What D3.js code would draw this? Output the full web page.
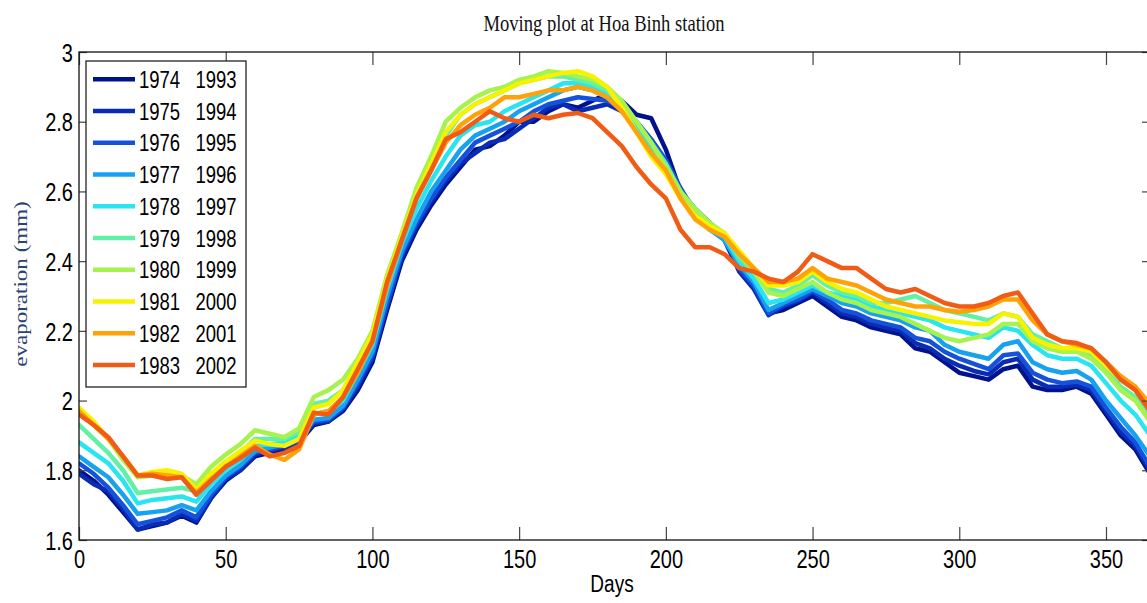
<!DOCTYPE html>
<html>
<head>
<meta charset="utf-8">
<script src="https://cdn.jsdelivr.net/npm/d3@7/dist/d3.min.js"></script>
<style>
  html, body { margin: 0; padding: 0; background: #fff; }
  svg { display: block; }
</style>
</head>
<body>
<svg id="chart" width="1147" height="603"></svg>
<script>
// ---------------- DATA ----------------
const days = [0,5,10,15,20,25,30,35,40,45,50,55,60,65,70,75,80,85,90,95,100,105,110,115,120,125,130,135,140,145,150,155,160,165,170,175,180,185,190,195,200,205,210,215,220,225,230,235,240,245,250,255,260,265,270,275,280,285,290,295,300,305,310,315,320,325,330,335,340,345,350,355,360,365];

const legendStart = ["1974","1975","1976","1977","1978","1979","1980","1981","1982","1983"];
const legendEnd = ["1993","1994","1995","1996","1997","1998","1999","2000","2001","2002"];
const seriesColors = ["#00128c","#0a2cb4","#1552dc","#16a2ee","#2ae4f0","#62efa6","#a6f24e","#f6f200","#ffa20a","#f05c16"];

const s1974 = [1.80,1.77,1.73,1.68,1.63,1.64,1.65,1.67,1.65,1.72,1.77,1.80,1.84,1.85,1.86,1.88,1.93,1.94,1.97,2.03,2.11,2.26,2.40,2.49,2.56,2.62,2.67,2.72,2.73,2.76,2.80,2.80,2.83,2.85,2.84,2.86,2.88,2.86,2.82,2.81,2.72,2.60,2.55,2.51,2.47,2.38,2.33,2.25,2.26,2.28,2.30,2.27,2.24,2.23,2.21,2.20,2.19,2.15,2.14,2.11,2.08,2.07,2.06,2.09,2.10,2.04,2.03,2.03,2.04,2.02,1.96,1.90,1.86,1.79];
const s1975 = [1.79,1.76,1.74,1.69,1.63,1.645,1.65,1.675,1.655,1.72,1.775,1.80,1.845,1.855,1.865,1.88,1.935,1.94,1.975,2.04,2.12,2.27,2.41,2.50,2.57,2.63,2.68,2.71,2.74,2.75,2.78,2.81,2.84,2.85,2.83,2.84,2.85,2.83,2.79,2.74,2.68,2.60,2.54,2.50,2.46,2.37,2.32,2.245,2.27,2.285,2.31,2.28,2.25,2.24,2.22,2.21,2.20,2.165,2.15,2.12,2.10,2.085,2.075,2.11,2.12,2.06,2.04,2.04,2.045,2.03,1.97,1.91,1.87,1.80];
const s1976 = [1.82,1.79,1.75,1.70,1.645,1.655,1.665,1.685,1.665,1.73,1.78,1.81,1.85,1.86,1.87,1.885,1.94,1.945,1.98,2.05,2.13,2.28,2.42,2.51,2.58,2.64,2.69,2.74,2.76,2.78,2.80,2.83,2.85,2.86,2.87,2.865,2.86,2.84,2.80,2.75,2.69,2.61,2.54,2.50,2.47,2.38,2.33,2.25,2.275,2.29,2.315,2.29,2.26,2.25,2.23,2.22,2.21,2.18,2.17,2.14,2.12,2.105,2.09,2.13,2.135,2.08,2.06,2.05,2.055,2.04,1.98,1.925,1.88,1.81];
const s1977 = [1.84,1.81,1.78,1.73,1.675,1.68,1.685,1.70,1.685,1.74,1.785,1.815,1.855,1.865,1.875,1.89,1.945,1.95,1.985,2.06,2.14,2.30,2.43,2.52,2.60,2.66,2.72,2.76,2.78,2.80,2.83,2.85,2.87,2.89,2.90,2.89,2.87,2.84,2.79,2.73,2.67,2.59,2.53,2.49,2.46,2.39,2.34,2.26,2.28,2.30,2.32,2.30,2.28,2.27,2.25,2.24,2.23,2.21,2.20,2.16,2.14,2.13,2.12,2.16,2.17,2.11,2.09,2.08,2.085,2.06,2.00,1.95,1.90,1.84];
const s1978 = [1.88,1.85,1.82,1.77,1.705,1.715,1.72,1.725,1.71,1.76,1.80,1.83,1.87,1.875,1.88,1.90,1.96,1.97,2.00,2.08,2.16,2.32,2.45,2.55,2.63,2.70,2.76,2.79,2.80,2.83,2.85,2.87,2.89,2.91,2.91,2.90,2.88,2.85,2.79,2.73,2.67,2.59,2.53,2.49,2.47,2.40,2.35,2.28,2.29,2.31,2.33,2.31,2.30,2.29,2.27,2.26,2.25,2.24,2.23,2.21,2.20,2.19,2.18,2.21,2.20,2.16,2.13,2.12,2.12,2.10,2.05,2.00,1.96,1.90];
const s1979 = [1.93,1.89,1.85,1.80,1.735,1.74,1.745,1.75,1.74,1.79,1.82,1.85,1.89,1.89,1.89,1.91,1.99,2.00,2.03,2.10,2.18,2.34,2.47,2.58,2.67,2.76,2.82,2.85,2.87,2.89,2.91,2.92,2.93,2.93,2.92,2.91,2.89,2.85,2.80,2.74,2.68,2.60,2.54,2.50,2.48,2.41,2.37,2.32,2.31,2.33,2.36,2.33,2.31,2.30,2.28,2.28,2.29,2.30,2.28,2.26,2.25,2.24,2.23,2.25,2.24,2.19,2.17,2.15,2.15,2.13,2.09,2.04,2.01,1.95];
const s1980 = [1.97,1.93,1.89,1.83,1.78,1.785,1.79,1.785,1.76,1.81,1.845,1.875,1.915,1.905,1.895,1.92,2.01,2.03,2.06,2.12,2.20,2.36,2.48,2.61,2.70,2.80,2.84,2.87,2.89,2.90,2.92,2.93,2.945,2.94,2.93,2.92,2.90,2.86,2.80,2.74,2.67,2.60,2.55,2.51,2.48,2.42,2.37,2.31,2.30,2.32,2.34,2.31,2.29,2.28,2.26,2.25,2.24,2.22,2.20,2.18,2.17,2.18,2.19,2.22,2.22,2.17,2.15,2.14,2.14,2.12,2.08,2.03,2.00,1.94];
const s1981 = [1.98,1.94,1.89,1.84,1.785,1.795,1.80,1.79,1.745,1.79,1.825,1.855,1.885,1.875,1.87,1.89,1.98,1.99,2.03,2.11,2.19,2.35,2.47,2.59,2.68,2.77,2.82,2.85,2.87,2.89,2.91,2.92,2.93,2.94,2.945,2.93,2.90,2.84,2.77,2.70,2.65,2.58,2.53,2.50,2.48,2.43,2.38,2.33,2.33,2.34,2.37,2.34,2.32,2.31,2.29,2.27,2.26,2.25,2.24,2.23,2.225,2.22,2.22,2.25,2.24,2.18,2.16,2.15,2.15,2.14,2.10,2.06,2.03,1.98];
const s1982 = [1.97,1.93,1.89,1.84,1.785,1.79,1.785,1.78,1.735,1.775,1.81,1.84,1.87,1.845,1.83,1.86,1.96,1.97,2.01,2.08,2.17,2.33,2.46,2.58,2.66,2.74,2.79,2.82,2.84,2.87,2.87,2.88,2.89,2.89,2.90,2.89,2.87,2.83,2.77,2.71,2.66,2.58,2.52,2.49,2.47,2.42,2.38,2.34,2.34,2.35,2.38,2.35,2.34,2.33,2.31,2.29,2.28,2.27,2.27,2.26,2.255,2.26,2.27,2.29,2.29,2.23,2.19,2.17,2.16,2.15,2.11,2.07,2.04,1.99];
const s1983 = [1.96,1.93,1.895,1.84,1.785,1.785,1.775,1.78,1.73,1.77,1.81,1.835,1.865,1.84,1.85,1.87,1.965,1.96,2.01,2.09,2.17,2.34,2.46,2.58,2.66,2.75,2.77,2.80,2.83,2.81,2.80,2.82,2.81,2.82,2.825,2.81,2.77,2.73,2.67,2.62,2.58,2.49,2.44,2.44,2.42,2.38,2.37,2.35,2.34,2.37,2.42,2.40,2.38,2.38,2.35,2.32,2.31,2.32,2.30,2.28,2.27,2.27,2.28,2.30,2.31,2.25,2.19,2.17,2.165,2.15,2.11,2.06,2.03,1.97];

const seriesValues = [s1974,s1975,s1976,s1977,s1978,s1979,s1980,s1981,s1982,s1983];

const xTicks = [0,50,100,150,200,250,300,350];
const yTicks = [1.6,1.8,2.0,2.2,2.4,2.6,2.8,3.0];
const yTickLabels = ["1.6","1.8","2","2.2","2.4","2.6","2.8","3"];
const titleText = "Moving plot at Hoa Binh station";
const xLabelText = "Days";
const yLabelText = "evaporation (mm)";

// ---------------- LAYOUT ----------------
const pL = 79, pR = 1150, pT = 52, pB = 540;
const SY = 1.28; // vertical text stretch seen in the reference

const svg = d3.select("#chart");
const x = d3.scaleLinear().domain([0, 365]).range([pL, pR]);
const y = d3.scaleLinear().domain([1.6, 3.0]).range([pB, pT]);

svg.append("defs").append("clipPath").attr("id", "plotclip")
  .append("rect").attr("x", pL).attr("y", pT).attr("width", pR - pL).attr("height", pB - pT);

// Lines
const line = d3.line().x((d, i) => x(days[i])).y(d => y(d));
svg.append("g").attr("clip-path", "url(#plotclip)")
  .selectAll("path").data(seriesValues).join("path")
  .attr("d", d => line(d))
  .attr("fill", "none")
  .attr("stroke", (d, i) => seriesColors[i])
  .attr("stroke-width", 4.5)
  .attr("stroke-linejoin", "round")
  .attr("stroke-linecap", "round");

// Axes (ticks pointing inward)
const fmtY = d => yTickLabels[yTicks.findIndex(t => Math.abs(t - d) < 1e-9)];
const gx = svg.append("g").attr("transform", `translate(0,${pB})`)
  .call(d3.axisBottom(x).tickValues(xTicks).tickSizeInner(-13).tickSizeOuter(0).tickFormat(d3.format("d")));
const gxt = svg.append("g").attr("transform", `translate(0,${pT})`)
  .call(d3.axisTop(x).tickValues(xTicks).tickSizeInner(-13).tickSizeOuter(0).tickFormat(""));
const gy = svg.append("g").attr("transform", `translate(${pL},0)`)
  .call(d3.axisLeft(y).tickValues(yTicks).tickSizeInner(-8).tickSizeOuter(0).tickFormat(fmtY));
const gyr = svg.append("g").attr("transform", `translate(${pR},0)`)
  .call(d3.axisRight(y).tickValues(yTicks).tickSizeInner(-8).tickSizeOuter(0).tickFormat(""));

[gx, gxt, gy, gyr].forEach(g => {
  g.select(".domain").remove();
  g.selectAll(".tick line").attr("stroke", "#444").attr("stroke-width", 1.2);
});

gx.selectAll(".tick text")
  .attr("font-family", "Liberation Sans, Arial, sans-serif")
  .attr("font-size", 20).attr("fill", "#000")
  .attr("y", 7.8).attr("dy", "0.716em")
  .attr("transform", `scale(1,${SY})`);
gy.selectAll(".tick text")
  .attr("font-family", "Liberation Sans, Arial, sans-serif")
  .attr("font-size", 20).attr("fill", "#000")
  .attr("x", -6).attr("dy", "0.358em")
  .attr("transform", `scale(1,${SY})`);

// Box
svg.append("rect").attr("x", pL).attr("y", pT).attr("width", pR - pL).attr("height", pB - pT)
  .attr("fill", "none").attr("stroke", "#111").attr("stroke-width", 1.3);

// Title
svg.append("text")
  .attr("transform", `translate(604,30.5) scale(1,${SY})`)
  .attr("text-anchor", "middle")
  .attr("font-family", "Liberation Serif, Times New Roman, serif")
  .attr("font-size", 18.6).attr("fill", "#111")
  .text(titleText);

// X label
svg.append("text")
  .attr("transform", `translate(612,592) scale(1,${SY})`)
  .attr("text-anchor", "middle")
  .attr("font-family", "Liberation Sans, Arial, sans-serif")
  .attr("font-size", 19).attr("fill", "#000")
  .text(xLabelText);

// Y label
svg.append("text")
  .attr("transform", `translate(27,284) scale(1,${SY}) rotate(-90)`)
  .attr("text-anchor", "middle")
  .attr("font-family", "Liberation Serif, Times New Roman, serif")
  .attr("font-size", 18).attr("fill", "#2a4373")
  .text(yLabelText);

// Legend
const lg = svg.append("g");
lg.append("rect").attr("x", 86).attr("y", 61).attr("width", 160).attr("height", 326)
  .attr("fill", "#fff").attr("stroke", "#111").attr("stroke-width", 1.2);
const rowY = i => 79.3 + i * 31.75;
const items = lg.selectAll("g.item").data(legendStart).join("g").attr("class", "item");
items.append("line")
  .attr("x1", 93).attr("x2", 135)
  .attr("y1", (d, i) => rowY(i)).attr("y2", (d, i) => rowY(i))
  .attr("stroke", (d, i) => seriesColors[i]).attr("stroke-width", 4.5);
items.append("text")
  .attr("transform", (d, i) => `translate(139,${rowY(i)}) scale(1,${SY})`)
  .attr("dy", "0.358em")
  .attr("font-family", "Liberation Sans, Arial, sans-serif")
  .attr("font-size", 18.5).attr("fill", "#000")
  .text((d, i) => legendStart[i]);
items.append("text")
  .attr("transform", (d, i) => `translate(195.5,${rowY(i)}) scale(1,${SY})`)
  .attr("dy", "0.358em")
  .attr("font-family", "Liberation Sans, Arial, sans-serif")
  .attr("font-size", 18.5).attr("fill", "#000")
  .text((d, i) => legendEnd[i]);
</script>
</body>
</html>
